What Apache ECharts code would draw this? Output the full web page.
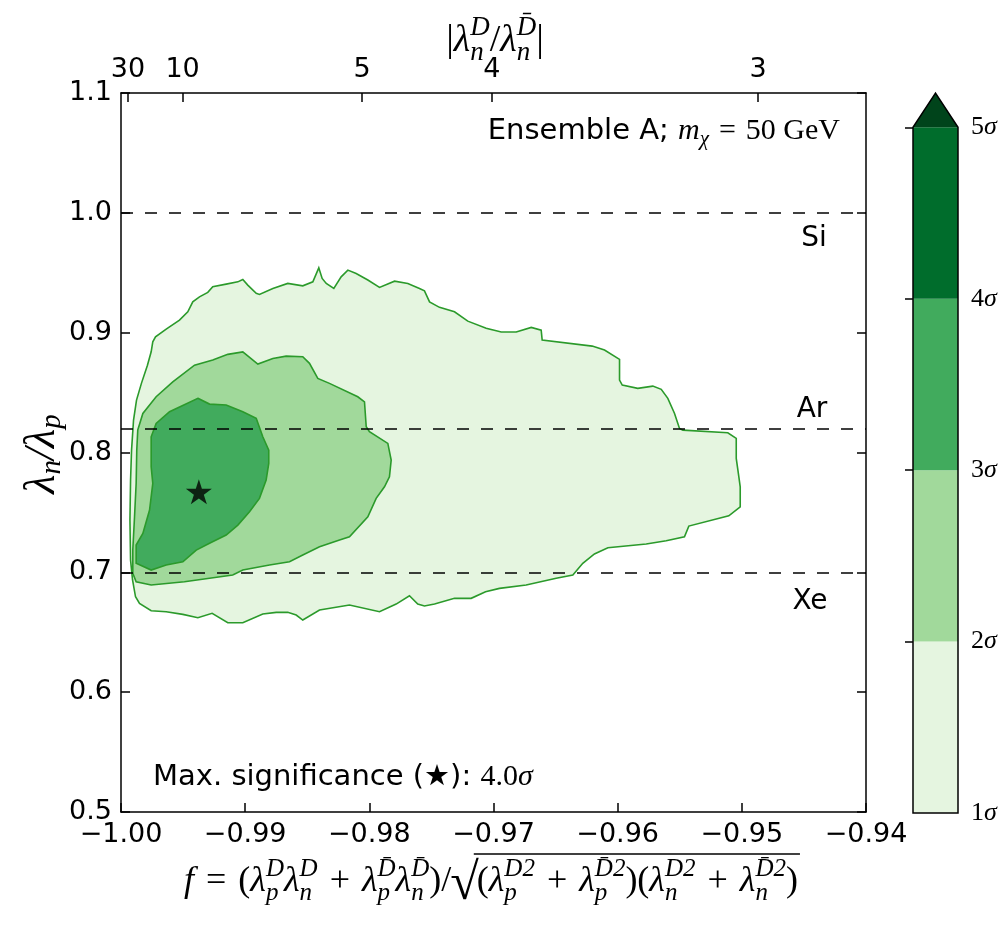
<!DOCTYPE html>
<html>
<head>
<meta charset="utf-8">
<script src="https://cdn.jsdelivr.net/npm/echarts@6/dist/echarts.min.js"></script>
<style>
html, body { margin: 0; padding: 0; background: #fff; }
#chart { width: 1002px; height: 930px; }
</style>
</head>
<body>
<div id="chart"></div>
<script>
// axis ranges
var xMin = -1.00, xMax = -0.94, xStep = 0.01;
var yMin = 0.5, yMax = 1.1, yStep = 0.1;

// top axis: |lambda_n^D / lambda_n^Dbar|
var ratioTicks = [30, 10, 5, 4, 3];

// nuclei lines (lambda_n/lambda_p where the rate vanishes)
var nucleusNames = ['Si', 'Ar', 'Xe'];
var nucleusRatio = [1.0, 0.818, 0.698];

// best fit point
var bestFit = [-0.99373, 0.7672];

// colour bar
var sigmaLevels = [1, 2, 3, 4, 5];
var sigmaColors = ['#e5f5e0', '#a1d99b', '#41ab5d', '#006d2c'];
var extendColor = '#00441b';
var extendTop = 5.2;

// contour outlines [f, lambda_n/lambda_p]
var contour1 = [
    [-0.99757,0.8840],[-0.99744,0.8924],[-0.99722,0.8965],[-0.99636,0.9030],[-0.99529,0.9105],
    [-0.99462,0.9174],[-0.99422,0.9257],[-0.99368,0.9299],[-0.99301,0.9336],[-0.99261,0.9383],
    [-0.99153,0.9405],[-0.99059,0.9424],[-0.99019,0.9444],[-0.98979,0.9397],[-0.98911,0.9328],
    [-0.98885,0.9319],[-0.98777,0.9369],[-0.98657,0.9411],[-0.98536,0.9391],[-0.98455,0.9424],
    [-0.98407,0.9541],[-0.98380,0.9453],[-0.98347,0.9411],[-0.98286,0.9369],[-0.98227,0.9466],
    [-0.98173,0.9522],[-0.98106,0.9494],[-0.98012,0.9439],[-0.97918,0.9378],[-0.97797,0.9430],
    [-0.97690,0.9411],[-0.97596,0.9369],[-0.97556,0.9349],[-0.97515,0.9257],[-0.97435,0.9211],
    [-0.97314,0.9174],[-0.97207,0.9096],[-0.97059,0.9036],[-0.96938,0.9005],[-0.96817,0.9005],
    [-0.96696,0.9044],[-0.96616,0.9021],[-0.96608,0.8938],[-0.96205,0.8888],[-0.96106,0.8855],
    [-0.95985,0.8777],[-0.95985,0.8604],[-0.95963,0.8562],[-0.95838,0.8535],[-0.95717,0.8554],
    [-0.95649,0.8527],[-0.95596,0.8452],[-0.95542,0.8326],[-0.95502,0.8201],[-0.95475,0.8187],
    [-0.95113,0.8165],[-0.95045,0.8118],[-0.95045,0.7951],[-0.95024,0.7797],[-0.95013,0.7714],
    [-0.95013,0.7547],[-0.95105,0.7472],[-0.95427,0.7386],[-0.95462,0.7297],[-0.95609,0.7263],
    [-0.95770,0.7236],[-0.96079,0.7205],[-0.96187,0.7153],[-0.96281,0.7075],[-0.96361,0.6977],
    [-0.96495,0.6950],[-0.96737,0.6894],[-0.96952,0.6866],[-0.97064,0.6838],[-0.97180,0.6783],
    [-0.97314,0.6783],[-0.97475,0.6735],[-0.97556,0.6719],[-0.97610,0.6735],[-0.97677,0.6805],
    [-0.97784,0.6735],[-0.97918,0.6671],[-0.98160,0.6727],[-0.98401,0.6685],[-0.98536,0.6602],
    [-0.98589,0.6644],[-0.98657,0.6666],[-0.98750,0.6666],[-0.98858,0.6652],[-0.99019,0.6579],
    [-0.99140,0.6579],[-0.99266,0.6658],[-0.99381,0.6621],[-0.99502,0.6649],[-0.99636,0.6671],
    [-0.99757,0.6679],[-0.99851,0.6741],[-0.99883,0.6796],[-0.99907,0.6936],[-0.99923,0.7102],
    [-0.99928,0.7436],[-0.99923,0.7770],[-0.99915,0.8020],[-0.99899,0.8271],[-0.99875,0.8437],
    [-0.99835,0.8579],[-0.99787,0.8729]
];
var contour2 = [
    [-0.99865,0.8187],[-0.99824,0.8326],[-0.99717,0.8465],[-0.99583,0.8590],[-0.99408,0.8729],
    [-0.99261,0.8771],[-0.99140,0.8819],[-0.99019,0.8840],[-0.98898,0.8738],[-0.98777,0.8785],
    [-0.98670,0.8804],[-0.98536,0.8799],[-0.98482,0.8744],[-0.98415,0.8618],[-0.98321,0.8577],
    [-0.98093,0.8465],[-0.98039,0.8423],[-0.98025,0.8215],[-0.97999,0.8173],[-0.97851,0.8076],
    [-0.97824,0.7937],[-0.97838,0.7797],[-0.97878,0.7714],[-0.97945,0.7617],[-0.98012,0.7464],
    [-0.98160,0.7297],[-0.98240,0.7269],[-0.98401,0.7213],[-0.98536,0.7144],[-0.98643,0.7088],
    [-0.98804,0.7061],[-0.99019,0.7019],[-0.99100,0.6977],[-0.99287,0.6950],[-0.99489,0.6921],
    [-0.99757,0.6894],[-0.99878,0.6921],[-0.99905,0.6991],[-0.99905,0.7186],[-0.99891,0.7464],
    [-0.99878,0.7742],[-0.99873,0.8020]
];
var contour3 = [
    [-0.99381,0.8452],[-0.99287,0.8404],[-0.99153,0.8396],[-0.99019,0.8340],[-0.98911,0.8285],
    [-0.98858,0.8131],[-0.98810,0.8020],[-0.98810,0.7909],[-0.98831,0.7770],[-0.98885,0.7617],
    [-0.98965,0.7505],[-0.99059,0.7394],[-0.99153,0.7311],[-0.99287,0.7242],[-0.99394,0.7186],
    [-0.99502,0.7088],[-0.99636,0.7061],[-0.99757,0.7019],[-0.99878,0.7075],[-0.99878,0.7228],
    [-0.99824,0.7325],[-0.99770,0.7520],[-0.99744,0.7742],[-0.99757,0.7881],[-0.99757,0.8131],
    [-0.99717,0.8243],[-0.99609,0.8340]
];

var contours = [contour1, contour2, contour3];
var lineGreen = '#2b9a2b';
var sans = 'DejaVu Sans';
var serif = 'Liberation Serif';

var topTickPos = ratioTicks.map(function(r) { return -r / Math.sqrt(1 + r * r); });

var chart = echarts.init(document.getElementById('chart'));

function mathStyles(size) {
    var small = Math.round(size * 0.7);
    return {
        rm: { fontFamily: serif, fontSize: size, align: 'left' },
        it: { fontFamily: serif, fontStyle: 'italic', fontSize: size, align: 'left' },
        sa: { fontFamily: sans, fontSize: 29, align: 'left' },
        sb: { fontFamily: serif, fontStyle: 'italic', fontSize: small, width: 0, padding: [Math.round(size * 0.6), 0, 0, 0], align: 'left' },
        sp: { fontFamily: serif, fontStyle: 'italic', fontSize: small, padding: [0, 0, Math.round(size * 0.7), 0], align: 'left' },
        sub: { fontFamily: serif, fontStyle: 'italic', fontSize: small, padding: [Math.round(size * 0.55), 0, 0, 0], align: 'left' },
        big: { fontFamily: serif, fontSize: Math.round(size * 1.45), align: 'left' }
    };
}
var mathRich = mathStyles(36);
var titleRich = mathStyles(38);
var labelRich = mathStyles(30);

function textWidth(t, rich) {
    return new echarts.graphic.Text({ style: { text: t, rich: rich } }).getBoundingRect().width;
}

// x-axis title: f = (...)/sqrt(...)
var numerText = '{it|f}{rm|\u2004=\u2004(}{it|\u03bb}{sb|p}{sp|D}{it|\u03bb}{sb|n}{sp|D}{rm|\u2004+\u2004}{it|\u03bb}{sb|p}{sp|D\u0304}{it|\u03bb}{sb|n}{sp|D\u0304}{rm|)/}';
var sqrtText = '{big|\u221a}';
var radText = '{rm|(}{it|\u03bb}{sb|p}{sp|D2}{rm|\u2004+\u2004}{it|\u03bb}{sb|p}{sp|D\u03042}{rm|)(}{it|\u03bb}{sb|n}{sp|D2}{rm|\u2004+\u2004}{it|\u03bb}{sb|n}{sp|D\u03042}{rm|)}';
var numW = textWidth(numerText, mathRich);
var sqW = textWidth(sqrtText, mathRich);
var radW = textWidth(radText, mathRich);
var fCenter = 491, fY = 882;
var fLeft = fCenter - (numW + sqW - 3 + radW) / 2;
var sqLeft = fLeft + numW - 1;
var radLeft = sqLeft + sqW - 2;

var axisBlack = { color: '#000', width: 1.5 };

option = {
    animation: false,
    backgroundColor: '#fff',
    grid: [
        { left: 121, top: 93, width: 745, height: 719, outerBoundsMode: 'none' },
        { left: 913, top: 93, width: 45, height: 720, outerBoundsMode: 'none' }
    ],
    xAxis: [{
        gridIndex: 0, type: 'value', position: 'bottom',
        min: xMin, max: xMax, interval: xStep,
        axisLine: { show: true, onZero: false, lineStyle: axisBlack },
        axisTick: { show: true, inside: true, length: 9, lineStyle: axisBlack },
        splitLine: { show: false },
        axisLabel: {
            showMinLabel: true, showMaxLabel: true,
            margin: 9, color: '#000', fontFamily: sans, fontSize: 27,
            formatter: function(v) { return v.toFixed(2).replace('-', '\u2212'); }
        }
    }, {
        gridIndex: 0, type: 'value', position: 'top',
        min: xMin, max: xMax,
        axisLine: { show: true, onZero: false, lineStyle: axisBlack },
        axisTick: { show: true, inside: true, length: 9, lineStyle: axisBlack, customValues: topTickPos },
        splitLine: { show: false },
        axisLabel: {
            customValues: topTickPos,
            margin: 10, color: '#000', fontFamily: sans, fontSize: 27,
            formatter: function(v) {
                for (var i = 0; i < topTickPos.length; i++) {
                    if (Math.abs(topTickPos[i] - v) < 1e-7) return String(ratioTicks[i]);
                }
                return '';
            }
        }
    }, {
        gridIndex: 1, type: 'value', min: 0, max: 1, show: false
    }],
    yAxis: [{
        gridIndex: 0, type: 'value', position: 'left',
        min: yMin, max: yMax, interval: yStep,
        axisLine: { show: true, onZero: false, lineStyle: axisBlack },
        axisTick: { show: true, inside: true, length: 9, lineStyle: axisBlack },
        splitLine: { show: false },
        axisLabel: {
            showMinLabel: true, showMaxLabel: true,
            margin: 9, color: '#000', fontFamily: sans, fontSize: 27,
            formatter: function(v) { return v.toFixed(1); }
        }
    }, {
        gridIndex: 0, type: 'value', position: 'right',
        min: yMin, max: yMax, interval: yStep,
        axisLine: { show: true, onZero: false, lineStyle: axisBlack },
        axisTick: { show: true, inside: true, length: 9, lineStyle: axisBlack },
        splitLine: { show: false },
        axisLabel: { show: false }
    }, {
        gridIndex: 1, type: 'value', position: 'right',
        min: sigmaLevels[0], max: extendTop,
        axisLine: { show: false },
        axisTick: { show: true, inside: true, length: 8, lineStyle: axisBlack, customValues: sigmaLevels.slice(1) },
        splitLine: { show: false },
        axisLabel: {
            customValues: sigmaLevels,
            margin: 13,
            formatter: function(v) { return '{n|' + v + '}{s|\u03c3}'; },
            rich: {
                n: { fontFamily: serif, fontSize: 26, color: '#000' },
                s: { fontFamily: serif, fontStyle: 'italic', fontSize: 26, color: '#000' }
            }
        }
    }],
    series: [{
        type: 'custom',
        xAxisIndex: 0, yAxisIndex: 0,
        clip: true,
        data: contours.map(function(c, i) { return { value: c[0].concat([i]) }; }),
        renderItem: function(params, api) {
            var pts = contours[params.dataIndex].map(function(p) { return api.coord(p); });
            return {
                type: 'polygon',
                shape: { points: pts },
                style: { fill: sigmaColors[params.dataIndex], stroke: lineGreen, lineWidth: 1.6 }
            };
        },
        z: 2
    }, {
        type: 'line',
        xAxisIndex: 0, yAxisIndex: 0,
        data: [],
        markLine: {
            silent: true,
            symbol: 'none',
            label: { show: false },
            lineStyle: { color: '#000', width: 1.6, type: [12, 12] },
            data: nucleusRatio.map(function(v) { return { yAxis: v }; })
        },
        z: 3
    }, {
        type: 'scatter',
        xAxisIndex: 0, yAxisIndex: 0,
        data: [bestFit],
        symbol: 'path://M50,0 L61.2,34.5 L97.6,34.5 L68.2,55.9 L79.4,90.5 L50,69.1 L20.6,90.5 L31.8,55.9 L2.4,34.5 L38.8,34.5 Z',
        symbolSize: [26, 25],
        itemStyle: { color: '#000' },
        z: 4
    }, {
        type: 'custom',
        xAxisIndex: 2, yAxisIndex: 2,
        data: sigmaColors.map(function(c, i) { return [sigmaLevels[i], sigmaLevels[i + 1]]; }),
        renderItem: function(params, api) {
            var lo = sigmaLevels[params.dataIndex], hi = sigmaLevels[params.dataIndex + 1];
            var a = api.coord([0, hi]), b = api.coord([1, lo]);
            return {
                type: 'rect',
                shape: { x: a[0], y: a[1], width: b[0] - a[0], height: b[1] - a[1] },
                style: { fill: sigmaColors[params.dataIndex] }
            };
        }
    }, {
        type: 'custom',
        xAxisIndex: 2, yAxisIndex: 2,
        data: [[0.5, extendTop]],
        renderItem: function(params, api) {
            var top = sigmaLevels[sigmaLevels.length - 1];
            var bl = api.coord([0, sigmaLevels[0]]), br = api.coord([1, sigmaLevels[0]]);
            var tl = api.coord([0, top]), tr = api.coord([1, top]);
            var tip = api.coord([0.5, extendTop]);
            return {
                type: 'group',
                children: [{
                    type: 'polygon',
                    shape: { points: [tl, tr, tip] },
                    style: { fill: extendColor }
                }, {
                    type: 'polygon',
                    shape: { points: [bl, br, tr, tip, tl] },
                    style: { fill: null, stroke: '#000', lineWidth: 1.5 }
                }]
            };
        },
        z: 5
    }],
    graphic: [{
        type: 'text', x: 495, y: 41,
        style: {
            text: '{rm||}{it|\u03bb}{sb|n}{sp|D}{rm|/}{it|\u03bb}{sb|n}{sp|D\u0304}{rm||}',
            rich: titleRich, align: 'center', verticalAlign: 'middle'
        }
    }, {
        type: 'text', x: 42, y: 454, rotation: Math.PI / 2,
        style: {
            text: '{l|\u03bb}{s|n}{l|/\u03bb}{s|p}',
            rich: {
                l: { fontFamily: serif, fontStyle: 'italic', fontSize: 44, align: 'left' },
                s: { fontFamily: serif, fontStyle: 'italic', fontSize: 29, padding: [20, 0, 0, 0], align: 'left' }
            },
            align: 'center', verticalAlign: 'middle'
        }
    }, {
        type: 'text', x: fLeft, y: fY,
        style: { text: numerText, rich: mathRich, align: 'left', verticalAlign: 'middle' }
    }, {
        type: 'text', x: sqLeft, y: fY + 3,
        style: { text: sqrtText, rich: mathRich, align: 'left', verticalAlign: 'middle' }
    }, {
        type: 'line',
        shape: { x1: radLeft - 3, y1: fY - 28, x2: radLeft + radW + 2, y2: fY - 28 },
        style: { stroke: '#000', lineWidth: 1.5 }
    }, {
        type: 'text', x: radLeft, y: fY,
        style: { text: radText, rich: mathRich, align: 'left', verticalAlign: 'middle' }
    }, {
        type: 'text', x: 840, y: 131,
        style: {
            text: '{sa|Ensemble A; }{it|m}{sub|\u03c7}{rm|\u2004=\u200450 GeV}',
            rich: labelRich, align: 'right', verticalAlign: 'middle'
        }
    }, {
        type: 'text', x: 153, y: 777,
        style: {
            text: '{sa|Max. significance (\u2605): }{rm|4.0}{it|\u03c3}',
            rich: labelRich, align: 'left', verticalAlign: 'middle'
        }
    }, {
        type: 'text', x: 814, y: 239,
        style: { text: nucleusNames[0], fontFamily: sans, fontSize: 28, fill: '#000', align: 'center', verticalAlign: 'middle' }
    }, {
        type: 'text', x: 812, y: 410,
        style: { text: nucleusNames[1], fontFamily: sans, fontSize: 28, fill: '#000', align: 'center', verticalAlign: 'middle' }
    }, {
        type: 'text', x: 810, y: 602,
        style: { text: nucleusNames[2], fontFamily: sans, fontSize: 28, fill: '#000', align: 'center', verticalAlign: 'middle' }
    }]
};

chart.setOption(option);
</script>
</body>
</html>
